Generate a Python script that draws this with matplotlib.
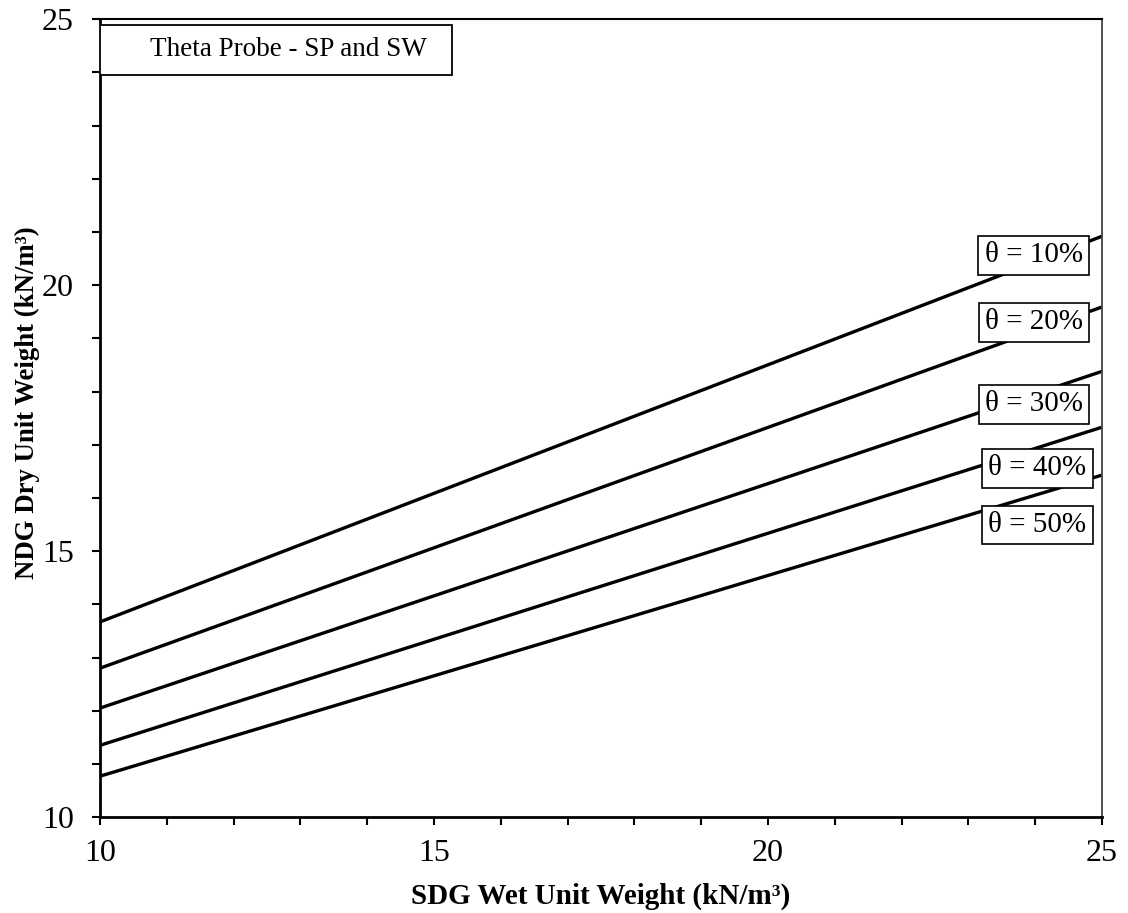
import numpy as np
import matplotlib
matplotlib.use("Agg")
import matplotlib.pyplot as plt
from matplotlib.patches import Rectangle
from matplotlib.ticker import MultipleLocator

plt.rcParams['font.family'] = ['Liberation Serif', 'DejaVu Serif']

# wet unit weight range (kN/m3) and dry unit weight at each end per moisture content
wet = [10, 25]
theta_labels = ["θ = 10%", "θ = 20%", "θ = 30%", "θ = 40%", "θ = 50%"]
dry_start = [13.67, 12.80, 12.05, 11.35, 10.77]
dry_end = [20.92, 19.59, 18.38, 17.33, 16.43]
label_pos = [(23.98, 20.56), (23.98, 19.30), (23.98, 17.76), (24.03, 16.56), (24.03, 15.49)]

fig = plt.figure(figsize=(11.28, 9.13), dpi=100)
ax = fig.add_axes([0.0887, 0.105, 0.8883, 0.874])

for ys, ye, lab, (lx, ly) in zip(dry_start, dry_end, theta_labels, label_pos):
    ax.plot(wet, [ys, ye], color='black', lw=2.4, solid_capstyle='butt')
    ax.text(lx, ly, lab, fontsize=21, ha='center', va='center',
            bbox=dict(boxstyle='square,pad=0.22', fc='white', ec='black', lw=1.2))

ax.set_xlim(10, 25)
ax.set_ylim(10, 25)
ax.xaxis.set_major_locator(MultipleLocator(5))
ax.xaxis.set_minor_locator(MultipleLocator(1))
ax.yaxis.set_major_locator(MultipleLocator(5))
ax.yaxis.set_minor_locator(MultipleLocator(1))
ax.tick_params(which='both', direction='out', width=1.5, labelsize=23,
               top=False, right=False)
ax.tick_params(axis='x', which='both', length=6, pad=10)
ax.tick_params(axis='y', which='both', length=6, pad=13)

for s in ['left', 'bottom']:
    ax.spines[s].set_linewidth(2)
ax.spines['top'].set_linewidth(1.5)
ax.spines['right'].set_linewidth(1.3)
ax.spines['right'].set_color('#444444')

ax.set_xlabel("SDG Wet Unit Weight (kN/m³)", fontsize=21, fontweight='bold', labelpad=10)
ax.set_ylabel("NDG Dry Unit Weight (kN/m³)", fontsize=19.3, fontweight='bold')
ax.yaxis.set_label_coords(-0.06, 0.52)

# title box in upper left
ax.add_patch(Rectangle((0.0, 0.930), 0.351, 0.063, transform=ax.transAxes,
                       fc='white', ec='black', lw=1.3, zorder=3))
ax.text(0.188, 0.962, "Theta Probe - SP and SW", transform=ax.transAxes,
        fontsize=19.5, ha='center', va='center', zorder=4)

fig.savefig("out.png", dpi=100)
